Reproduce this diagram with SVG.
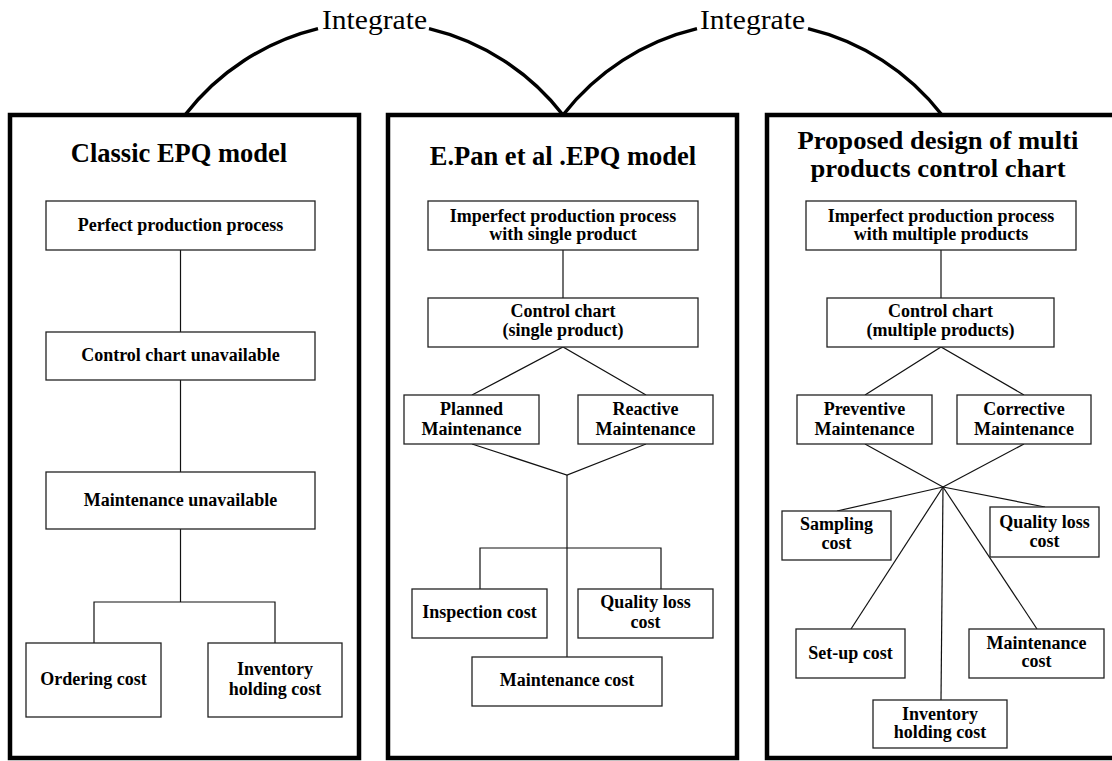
<svg xmlns="http://www.w3.org/2000/svg" width="1112" height="761" viewBox="0 0 1112 761">
<style>
.panel{fill:none;stroke:#000;stroke-width:4.5;stroke-linejoin:miter}
.arc{fill:none;stroke:#000;stroke-width:3.5}
.box{fill:#fff;stroke:#222;stroke-width:1.3}
.ln{fill:none;stroke:#111;stroke-width:1.2}
.t{font-family:"Liberation Serif","Times New Roman",serif;font-weight:bold;font-size:18px;fill:#000;text-anchor:middle}
.title{font-family:"Liberation Serif","Times New Roman",serif;font-weight:bold;font-size:26.5px;fill:#000;text-anchor:middle}
.title2{font-family:"Liberation Serif","Times New Roman",serif;font-weight:bold;font-size:25px;fill:#000;text-anchor:middle}
.int{font-family:"Liberation Serif","Times New Roman",serif;font-size:27px;fill:#000;text-anchor:middle}
</style>
<rect width="1112" height="761" fill="#fff"/>

<g id="integrate">
  <path class="arc" d="M185,115 A240,240 0 0,1 318,28.6"/>
  <path class="arc" d="M429,28.6 A240,240 0 0,1 563,115"/>
  <text class="int" x="374.5" y="29" textLength="105" lengthAdjust="spacingAndGlyphs">Integrate</text>
  <path class="arc" d="M563,115 A240,240 0 0,1 697,28.6"/>
  <path class="arc" d="M808,28.6 A240,240 0 0,1 942,115"/>
  <text class="int" x="752.5" y="29" textLength="105" lengthAdjust="spacingAndGlyphs">Integrate</text>
</g>

<g id="panel-classic">
  <rect class="panel" x="10" y="115" width="349" height="643"/>
  <text class="title" x="179" y="162">Classic EPQ model</text>
</g>
<g id="panel-pan">
  <rect class="panel" x="388" y="115" width="349" height="643"/>
  <text class="title" x="563" y="165">E.Pan et al .EPQ model</text>
</g>
<g id="panel-proposed">
  <rect class="panel" x="767" y="115" width="349" height="643"/>
  <text class="title2" textLength="281" lengthAdjust="spacingAndGlyphs" x="938" y="149">Proposed design of multi</text>
  <text class="title2" textLength="255" lengthAdjust="spacingAndGlyphs" x="938" y="177">products control chart</text>
</g>

<g id="connectors">
  <line class="ln" x1="180.5" y1="250" x2="180.5" y2="332"/>
  <line class="ln" x1="180.5" y1="380" x2="180.5" y2="472"/>
  <polyline class="ln" points="180.5,529 180.5,602"/>
  <polyline class="ln" points="94,643 94,602 275,602 275,643"/>
  <line class="ln" x1="563" y1="250" x2="563" y2="298"/>
  <polyline class="ln" points="472,395 563,347 646,395"/>
  <polyline class="ln" points="472,444 567,475 646,444"/>
  <line class="ln" x1="567" y1="475" x2="567" y2="657"/>
  <polyline class="ln" points="480,589 480,548 661,548 661,589"/>
  <line class="ln" x1="941" y1="250" x2="941" y2="298"/>
  <polyline class="ln" points="865,395 941,347 1024,395"/>
  <line class="ln" x1="865" y1="444" x2="943" y2="487"/>
  <line class="ln" x1="1024" y1="444" x2="943" y2="487"/>
  <line class="ln" x1="943" y1="487" x2="837" y2="511"/>
  <line class="ln" x1="943" y1="487" x2="1045" y2="507"/>
  <line class="ln" x1="943" y1="487" x2="851" y2="629"/>
  <line class="ln" x1="943" y1="487" x2="1037" y2="629"/>
  <line class="ln" x1="943" y1="487" x2="941" y2="700"/>
</g>

<g id="n-perfect"><rect class="box" x="46" y="201" width="269" height="49"/><text class="t" x="180.5" y="231">Perfect production process</text></g>
<g id="n-cc-unavail"><rect class="box" x="46" y="332" width="269" height="48"/><text class="t" x="180.5" y="361">Control chart unavailable</text></g>
<g id="n-maint-unavail"><rect class="box" x="46" y="472" width="269" height="57"/><text class="t" x="180.5" y="506">Maintenance unavailable</text></g>
<g id="n-ordering"><rect class="box" x="26" y="643" width="135" height="74"/><text class="t" x="93.5" y="685">Ordering cost</text></g>
<g id="n-inventory1"><rect class="box" x="208" y="643" width="134" height="74"/><text class="t"><tspan x="275" y="675">Inventory</tspan><tspan x="275" y="695">holding cost</tspan></text></g>

<g id="n-imperfect-single"><rect class="box" x="428" y="201" width="270" height="49"/><text class="t"><tspan x="563" y="222">Imperfect production process</tspan><tspan x="563" y="240">with single product</tspan></text></g>
<g id="n-cc-single"><rect class="box" x="428" y="298" width="270" height="49"/><text class="t"><tspan x="563" y="317">Control chart</tspan><tspan x="563" y="336">(single product)</tspan></text></g>
<g id="n-planned"><rect class="box" x="404" y="395" width="135" height="49"/><text class="t"><tspan x="471.5" y="415">Planned</tspan><tspan x="471.5" y="435">Maintenance</tspan></text></g>
<g id="n-reactive"><rect class="box" x="578" y="395" width="135" height="49"/><text class="t"><tspan x="645.5" y="415">Reactive</tspan><tspan x="645.5" y="435">Maintenance</tspan></text></g>
<g id="n-inspection"><rect class="box" x="412" y="589" width="135" height="49"/><text class="t" x="479.5" y="618">Inspection cost</text></g>
<g id="n-quality2"><rect class="box" x="578" y="589" width="135" height="49"/><text class="t"><tspan x="645.5" y="608">Quality loss</tspan><tspan x="645.5" y="628">cost</tspan></text></g>
<g id="n-maintcost2"><rect class="box" x="472" y="657" width="190" height="49"/><text class="t" x="567" y="686">Maintenance cost</text></g>

<g id="n-imperfect-multi"><rect class="box" x="806" y="201" width="270" height="49"/><text class="t"><tspan x="941" y="222">Imperfect production process</tspan><tspan x="941" y="240">with multiple products</tspan></text></g>
<g id="n-cc-multi"><rect class="box" x="827" y="298" width="227" height="49"/><text class="t"><tspan x="940.5" y="317">Control chart</tspan><tspan x="940.5" y="336">(multiple products)</tspan></text></g>
<g id="n-preventive"><rect class="box" x="797" y="395" width="135" height="49"/><text class="t"><tspan x="864.5" y="415">Preventive</tspan><tspan x="864.5" y="435">Maintenance</tspan></text></g>
<g id="n-corrective"><rect class="box" x="957" y="395" width="134" height="49"/><text class="t"><tspan x="1024" y="415">Corrective</tspan><tspan x="1024" y="435">Maintenance</tspan></text></g>
<g id="n-sampling"><rect class="box" x="782" y="511" width="109" height="49"/><text class="t"><tspan x="836.5" y="530">Sampling</tspan><tspan x="836.5" y="549">cost</tspan></text></g>
<g id="n-quality3"><rect class="box" x="990" y="507" width="109" height="50"/><text class="t"><tspan x="1044.5" y="528">Quality loss</tspan><tspan x="1044.5" y="547">cost</tspan></text></g>
<g id="n-setup"><rect class="box" x="796" y="629" width="109" height="49"/><text class="t" x="850.5" y="659">Set-up cost</text></g>
<g id="n-maintcost3"><rect class="box" x="969" y="629" width="135" height="49"/><text class="t"><tspan x="1036.5" y="649">Maintenance</tspan><tspan x="1036.5" y="667">cost</tspan></text></g>
<g id="n-inventory3"><rect class="box" x="873" y="700" width="134" height="48"/><text class="t"><tspan x="940" y="720">Inventory</tspan><tspan x="940" y="738">holding cost</tspan></text></g>
</svg>
